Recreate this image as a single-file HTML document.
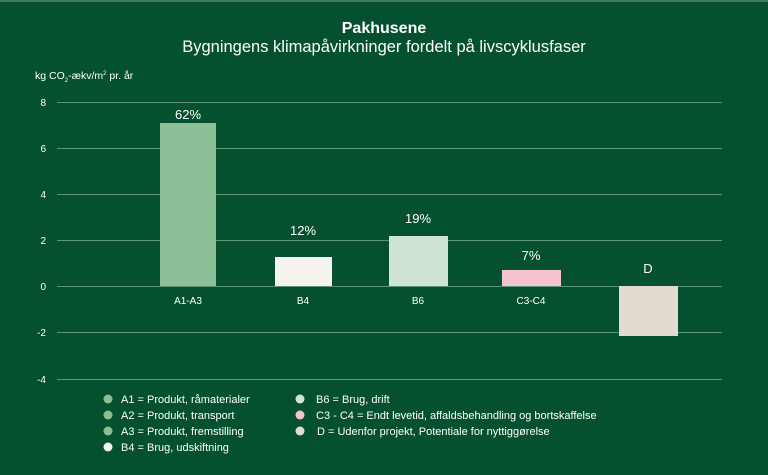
<!DOCTYPE html><html><head><style>body{margin:0;background:#05512f}svg{display:block}text{font-family:"Liberation Sans",sans-serif;fill:#fff}</style></head><body>
<svg width="768" height="475" viewBox="0 0 768 475">
<rect width="768" height="475" fill="#05512f"/>
<rect width="768" height="2" fill="#3d7a5c"/>
<text x="384" y="33" text-anchor="middle" font-size="16" font-weight="bold">Pakhusene</text>
<text x="384" y="52" text-anchor="middle" font-size="16.5">Bygningens klimapåvirkninger fordelt på livscyklusfaser</text>
<text x="35" y="79" font-size="10.5">kg CO<tspan font-size="6" dy="3">2</tspan><tspan dy="-3">-ækv/m</tspan><tspan font-size="6" dy="-4">2</tspan><tspan dy="4"> pr. år</tspan></text>
<g stroke="#5d9577" stroke-width="1">
<line x1="57" x2="722" y1="102.5" y2="102.5"/><line x1="57" x2="722" y1="148.5" y2="148.5"/><line x1="57" x2="722" y1="194.5" y2="194.5"/><line x1="57" x2="722" y1="240.5" y2="240.5"/><line x1="57" x2="722" y1="286.5" y2="286.5"/><line x1="57" x2="722" y1="332.5" y2="332.5"/><line x1="57" x2="722" y1="379.5" y2="379.5"/></g>
<g font-size="10" text-anchor="end"><text x="46" y="106">8</text><text x="46" y="152">6</text><text x="46" y="198">4</text><text x="46" y="244">2</text><text x="46" y="290">0</text><text x="46" y="336">-2</text><text x="46" y="383">-4</text></g>
<rect x="160" y="123" width="56" height="163" fill="#8dbf97"/>
<rect x="275" y="257" width="57" height="29" fill="#f6f3ef"/>
<rect x="389" y="236" width="59" height="50" fill="#cfe4d3"/>
<rect x="502" y="270" width="59" height="16" fill="#f5c2d0"/>
<rect x="619" y="286" width="59" height="50" fill="#e1dccf"/>
<g font-size="13" text-anchor="middle"><text x="188" y="119">62%</text><text x="303" y="235">12%</text><text x="418" y="223">19%</text><text x="531" y="260">7%</text><text x="648" y="273">D</text></g>
<g font-size="10" text-anchor="middle"><text x="188" y="304">A1-A3</text><text x="303" y="304">B4</text><text x="418" y="304">B6</text><text x="531" y="304">C3-C4</text></g>
<g font-size="11">
<circle cx="108" cy="399" r="4.5" fill="#8dbf97"/><text x="121" y="403">A1 = Produkt, råmaterialer</text>
<circle cx="108" cy="415" r="4.5" fill="#8dbf97"/><text x="121" y="419">A2 = Produkt, transport</text>
<circle cx="108" cy="431" r="4.5" fill="#8dbf97"/><text x="121" y="435">A3 = Produkt, fremstilling</text>
<circle cx="108" cy="447" r="4.5" fill="#f6f3ef"/><text x="121" y="451">B4 = Brug, udskiftning</text>
<circle cx="300" cy="399" r="4.5" fill="#cfe4d3"/><text x="316" y="403">B6 = Brug, drift</text>
<circle cx="300" cy="415" r="4.5" fill="#f5c2d0"/><text x="316" y="419">C3 - C4 = Endt levetid, affaldsbehandling og bortskaffelse</text>
<circle cx="300" cy="431" r="4.5" fill="#e1dccf"/><text x="317" y="435">D = Udenfor projekt, Potentiale for nyttiggørelse</text>
</g>
</svg></body></html>
